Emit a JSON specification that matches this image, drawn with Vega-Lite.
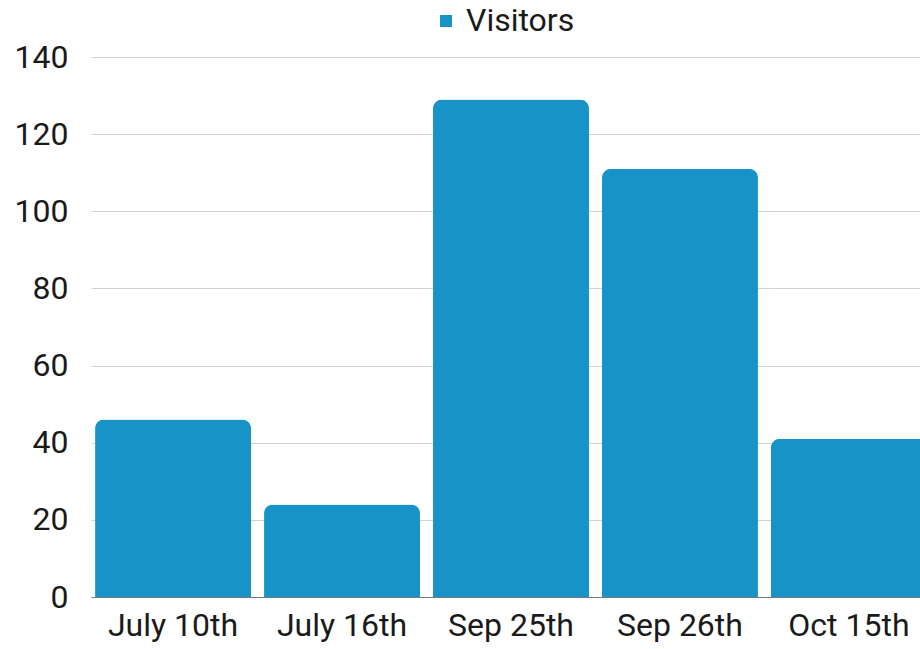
{
  "$schema": "https://vega.github.io/schema/vega-lite/v6.json",
  "autosize": "none",
  "width": 829,
  "height": 540,
  "padding": {"left": 91, "top": 57, "right": 0, "bottom": 52},
  "background": "white",
  "data": {
    "values": [
      {"date": "July 10th", "series": "Visitors", "value": 46},
      {"date": "July 16th", "series": "Visitors", "value": 24},
      {"date": "Sep 25th", "series": "Visitors", "value": 129},
      {"date": "Sep 26th", "series": "Visitors", "value": 111},
      {"date": "Oct 15th", "series": "Visitors", "value": 41}
    ]
  },
  "mark": {"type": "bar", "cornerRadiusTopLeft": 9, "cornerRadiusTopRight": 9},
  "encoding": {
    "x": {
      "field": "date",
      "type": "nominal",
      "sort": null,
      "scale": {"paddingInner": 0.077, "paddingOuter": 0.024, "range": [0, 840]},
      "axis": {
        "title": null,
        "labelAngle": 0,
        "labelFont": "Roboto",
        "labelFontSize": 32,
        "labelColor": "#1a1a1a",
        "labelPadding": 13,
        "ticks": false,
        "domainColor": "#777777",
        "domainWidth": 1,
        "grid": false
      }
    },
    "y": {
      "field": "value",
      "type": "quantitative",
      "scale": {"domain": [0, 140], "nice": false},
      "axis": {
        "title": null,
        "values": [0, 20, 40, 60, 80, 100, 120, 140],
        "labelFont": "Roboto",
        "labelFontSize": 32,
        "labelColor": "#1a1a1a",
        "labelPadding": 23,
        "ticks": false,
        "domain": false,
        "grid": true,
        "gridColor": "#d4d4d4",
        "gridWidth": 1
      }
    },
    "color": {
      "field": "series",
      "type": "nominal",
      "scale": {"range": ["#1893c8"]},
      "legend": {
        "title": null,
        "orient": "none",
        "legendX": 339,
        "legendY": -52,
        "symbolType": "square",
        "symbolSize": 144,
        "labelFont": "Roboto",
        "labelFontSize": 32,
        "labelColor": "#1a1a1a",
        "labelOffset": 4
      }
    }
  },
  "config": {"view": {"stroke": null}}
}
